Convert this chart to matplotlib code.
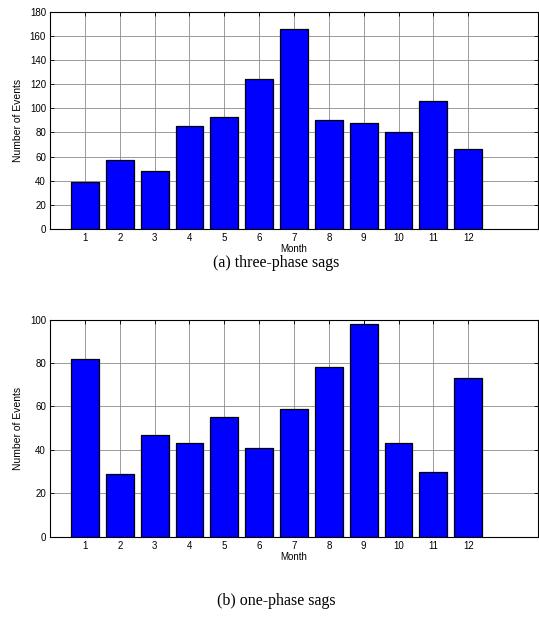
import matplotlib
matplotlib.use("Agg")
import matplotlib.pyplot as plt

# monthly sag counts
months = list(range(1, 13))
three_phase = [39, 57, 48, 85, 93, 124, 166, 90, 88, 80, 106, 66]
one_phase = [82, 29, 47, 43, 55, 41, 59, 78, 98, 43, 30, 73]
captions = ["(a) three-phase sags", "(b) one-phase sags"]


def draw_panel(ax, values, ymax):
    ax.bar(months, values, width=0.8, color="#0000ff", edgecolor="black",
           linewidth=0.9, zorder=3)
    ax.set_xlim(0, 14)
    ax.set_ylim(0, ymax)
    ax.set_xticks(months)
    ax.set_yticks(range(0, ymax + 1, 20))
    ax.grid(True, color="#8c8c8c", linestyle="-", linewidth=0.6, zorder=0)
    ax.tick_params(direction="in", top=True, right=True, length=3,
                   labelsize=7, pad=3, width=0.6)
    ax.set_xlabel("Month", fontsize=7, labelpad=1)
    ax.set_ylabel("Number of Events", fontsize=7.5, labelpad=5)
    for s in ax.spines.values():
        s.set_linewidth(0.8)


plt.rcParams['font.family'] = ['Liberation Sans', 'DejaVu Sans']

fig = plt.figure(figsize=(5.39, 6.17), dpi=100)
ax1 = fig.add_axes([0.093, 0.629, 0.905, 0.352])
ax2 = fig.add_axes([0.093, 0.130, 0.905, 0.352])

draw_panel(ax1, three_phase, 180)
draw_panel(ax2, one_phase, 100)

fig.text(0.512, 1 - 263 / 617, captions[0], ha="center", va="center",
         fontsize=11.5, family="Liberation Serif")
fig.text(0.512, 1 - 601 / 617, captions[1], ha="center", va="center",
         fontsize=11.5, family="Liberation Serif")

fig.savefig("out.png", dpi=100)
